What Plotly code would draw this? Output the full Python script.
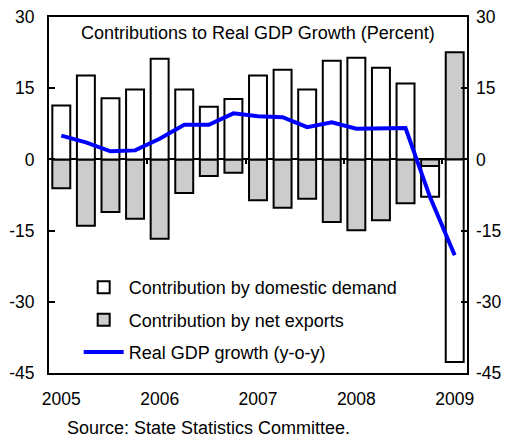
import plotly.graph_objects as go

quarters = list(range(17))  # 2005Q1 .. 2009Q1
domestic = [11.35, 17.7, 12.9, 14.7, 21.2, 14.7, 11.1, 12.7, 17.7, 18.9, 14.7, 20.8, 21.4, 19.3, 16.0, -6.45, -42.7]
net_exports = [-6.1, -14.0, -11.1, -12.5, -16.7, -7.1, -3.5, -2.8, -8.6, -10.2, -8.3, -13.2, -14.9, -12.8, -9.25, -1.4, 22.6]
gdp_growth = [5.0, 3.6, 1.7, 1.9, 4.35, 7.3, 7.3, 9.7, 9.1, 8.9, 6.8, 7.8, 6.45, 6.45, 6.6, -8.0, -20.2]

year_positions = [0, 4, 8, 12, 16]
year_labels = ["2005", "2006", "2007", "2008", "2009"]
boundary_positions = [3.5, 7.5, 11.5, 15.5]
y_ticks = [30, 15, 0, -15, -30, -45]
y_tick_labels = ["30", "15", "0", "-15", "-30", "-45"]

FONT = dict(family="Liberation Sans, Arial, sans-serif", size=18, color="black")
TICKFONT = dict(family="Liberation Sans, Arial, sans-serif", size=17.5, color="black")

fig = go.Figure()
fig.add_trace(go.Bar(
    x=quarters, y=net_exports, name="Contribution by net exports",
    marker=dict(color="#CCCCCC", line=dict(color="black", width=2)),
    legendrank=2, legendgroup="b",
))
fig.add_trace(go.Bar(
    x=quarters, y=domestic, name="Contribution by domestic demand",
    marker=dict(color="white", line=dict(color="black", width=2)),
    legendrank=1, legendgroup="a",
))
fig.add_trace(go.Scatter(
    x=quarters, y=gdp_growth, name="Real GDP growth (y-o-y)",
    mode="lines", line=dict(color="#0000FF", width=4),
    xaxis="x2", yaxis="y2", legendrank=3, legendgroup="c",
))

rng_x = [-0.5, 16.5]
rng_y = [-45, 30]

# page body has an 8px default margin, so the figure is slightly smaller than the window
fig.update_layout(
    width=501, height=430,
    margin=dict(l=41, r=42, t=9, b=65),
    paper_bgcolor="white", plot_bgcolor="white",
    font=FONT,
    barmode="relative", bargap=0.27,
    showlegend=True,
    legend=dict(x=0.071, y=0.292, xanchor="left", yanchor="top",
                bgcolor="rgba(0,0,0,0)", font=FONT, tracegroupgap=6,
                itemwidth=40),
    xaxis=dict(range=rng_x, tickmode="array", tickvals=year_positions, ticktext=year_labels,
               ticks="", showgrid=False, zeroline=False, showline=True, linecolor="black",
               linewidth=2, mirror=True, ticklabelstandoff=9, tickfont=TICKFONT,
               automargin=False, ticklabeloverflow="allow"),
    xaxis2=dict(range=rng_x, overlaying="x", anchor="free", position=0.6, side="bottom",
                tickmode="array", tickvals=boundary_positions, ticks="outside", ticklen=4,
                tickwidth=2, tickcolor="black", showticklabels=False, showgrid=False,
                zeroline=False, showline=False, automargin=False),
    yaxis=dict(range=rng_y, tickmode="array", tickvals=y_ticks, ticktext=y_tick_labels,
               ticks="inside", ticklen=6,
               tickwidth=2, tickcolor="black", showgrid=False, zeroline=True,
               zerolinecolor="black", zerolinewidth=2, showline=True, linecolor="black",
               linewidth=2, mirror=True, ticklabelstandoff=9, tickfont=TICKFONT,
               automargin=False, ticklabeloverflow="allow"),
    yaxis2=dict(range=rng_y, overlaying="y", side="right", anchor="x", tickmode="array",
                tickvals=y_ticks, ticktext=y_tick_labels, ticks="inside", ticklen=6,
                tickwidth=2, tickcolor="black",
                showgrid=False, zeroline=False, showline=False, ticklabelstandoff=8,
                tickfont=TICKFONT, automargin=False, ticklabeloverflow="allow"),
    annotations=[
        dict(text="Contributions to Real GDP Growth (Percent)", xref="paper", yref="paper",
             x=0.5, y=0.955, xanchor="center", yanchor="middle", showarrow=False, font=FONT),
        dict(text="Source: State Statistics Committee.", xref="paper", yref="paper",
             x=0.038, y=-0.155, xanchor="left", yanchor="middle", showarrow=False, font=FONT),
    ],
)

fig.write_html("out.html")
